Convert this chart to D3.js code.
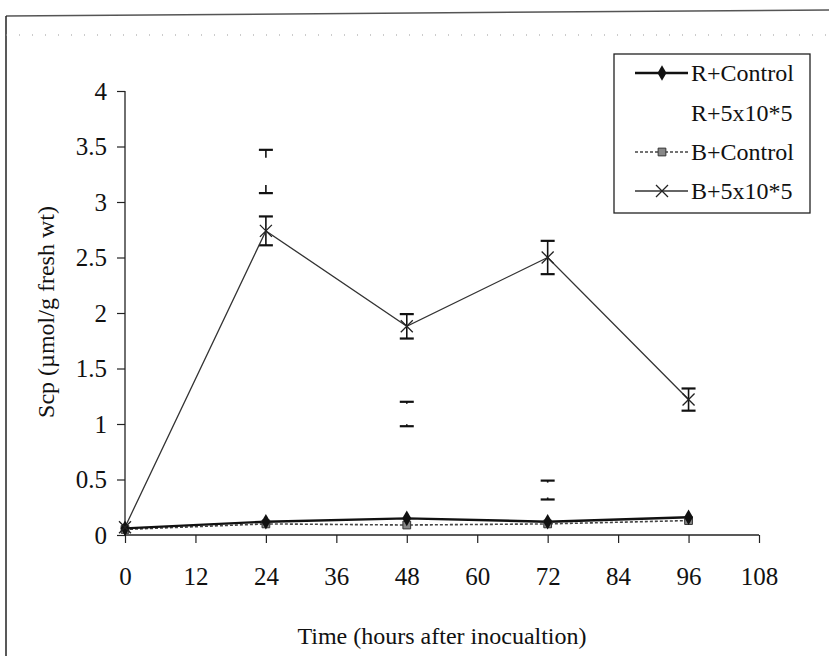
<!DOCTYPE html>
<html><head><meta charset="utf-8">
<script src="https://cdn.jsdelivr.net/npm/d3@7"></script>
<style>body{margin:0;background:#fff;} svg{display:block;} text{font-family:"Liberation Serif","Times New Roman",serif;fill:#111;}</style>
</head><body>
<svg id="c" width="829" height="656"></svg>
<script>
const hours = [0, 24, 48, 72, 96];
const xTicks = [0, 12, 24, 36, 48, 60, 72, 84, 96, 108];
const yTicks = [0, 0.5, 1, 1.5, 2, 2.5, 3, 3.5, 4];
const seriesNames = ["R+Control", "R+5x10*5", "B+Control", "B+5x10*5"];
const rControl = [0.06, 0.12, 0.15, 0.12, 0.16];
const rTreat = [0.07, 3.275, 1.09, 0.405, 0.13];
const rTreatErr = [0, 0.195, 0.11, 0.085, 0.03];
const bControl = [0.05, 0.10, 0.09, 0.10, 0.13];
const bTreat = [0.07, 2.74, 1.88, 2.50, 1.22];
const bTreatErr = [0.02, 0.13, 0.11, 0.15, 0.10];

const svg = d3.select("#c");
const x = d3.scaleLinear().domain([0, 108]).range([125, 759]);
const y = d3.scaleLinear().domain([0, 4]).range([535, 91]);

// outer scan frame
svg.append("line").attr("x1", 6).attr("y1", 16).attr("x2", 829).attr("y2", 10).attr("stroke", "#555").attr("stroke-width", 1.5);
svg.append("line").attr("x1", 6).attr("y1", 16).attr("x2", 6).attr("y2", 656).attr("stroke", "#222").attr("stroke-width", 1.5);
svg.append("line").attr("x1", 6).attr("y1", 35).attr("x2", 829).attr("y2", 35).attr("stroke", "#999").attr("stroke-width", 1).attr("stroke-dasharray", "1,12");

// axes
const yAxis = d3.axisLeft(y).tickValues(yTicks).tickFormat(d => String(d)).tickSize(8).tickPadding(10);
const gy = svg.append("g").attr("transform", "translate(125,0)").call(yAxis);
const xAxis = d3.axisBottom(x).tickValues(xTicks).tickFormat(d => String(d)).tickSize(8).tickPadding(24);
const gx = svg.append("g").attr("transform", "translate(0,535)").call(xAxis);
[gx, gy].forEach(g => {
  g.select(".domain").attr("stroke", "#222").attr("stroke-width", 1.3);
  g.selectAll(".tick line").attr("stroke", "#222").attr("stroke-width", 1.2);
  g.selectAll(".tick text").style("font-family", '"Liberation Serif",serif').style("font-size", "25px").attr("fill", "#111");
});
gy.select(".domain").attr("d", "M0,91V535");
gx.select(".domain").attr("d", "M125,0H759");

// titles
svg.append("text").attr("x", 442).attr("y", 644).attr("text-anchor", "middle").style("font-size", "24px").text("Time (hours after inocualtion)");
svg.append("text").attr("transform", "translate(54,312) rotate(-90)").attr("text-anchor", "middle").style("font-size", "24px").text("Scp (µmol/g fresh wt)");

const line = d3.line().x((d, i) => x(hours[i])).y(d => y(d));

// B+5x10*5 error bars
const cw = 7;
const eb = svg.append("g").attr("stroke", "#111").attr("stroke-width", 1.6);
bTreat.forEach((v, i) => {
  if (i === 0) return;
  const cx = x(hours[i]), t = y(v + bTreatErr[i]), b = y(v - bTreatErr[i]);
  eb.append("line").attr("x1", cx).attr("x2", cx).attr("y1", t).attr("y2", b);
  eb.append("line").attr("x1", cx - cw).attr("x2", cx + cw).attr("y1", t).attr("y2", t).attr("stroke-width", 2.2);
  eb.append("line").attr("x1", cx - cw).attr("x2", cx + cw).attr("y1", b).attr("y2", b).attr("stroke-width", 2.2);
});
// R+5x10*5 error bars (series line invisible, only caps with stubs)
rTreat.forEach((v, i) => {
  if (rTreatErr[i] < 0.05) return;
  const cx = x(hours[i]), t = y(v + rTreatErr[i]), b = y(v - rTreatErr[i]);
  const stub = i === 1 ? 8 : 2;
  eb.append("line").attr("x1", cx - cw).attr("x2", cx + cw).attr("y1", t).attr("y2", t).attr("stroke-width", 2.2);
  eb.append("line").attr("x1", cx).attr("x2", cx).attr("y1", t).attr("y2", t + stub);
  eb.append("line").attr("x1", cx - cw).attr("x2", cx + cw).attr("y1", b).attr("y2", b).attr("stroke-width", 2.2);
  eb.append("line").attr("x1", cx).attr("x2", cx).attr("y1", b).attr("y2", b - stub);
});

// lines
svg.append("path").datum(bControl).attr("d", line).attr("fill", "none").attr("stroke", "#444").attr("stroke-width", 1.6).attr("stroke-dasharray", "3,2");
svg.append("path").datum(rControl).attr("d", line).attr("fill", "none").attr("stroke", "#111").attr("stroke-width", 2.4);
svg.append("path").datum(bTreat).attr("d", line).attr("fill", "none").attr("stroke", "#333").attr("stroke-width", 1.3);

// markers
const diamond = d3.symbol().type(d3.symbolDiamond).size(70);
const square = d3.symbol().type(d3.symbolSquare).size(60);
function cross(g, cx, cy, s) {
  g.append("path").attr("d", `M${cx - s},${cy - s}L${cx + s},${cy + s}M${cx - s},${cy + s}L${cx + s},${cy - s}`).attr("stroke", "#222").attr("stroke-width", 1.3).attr("fill", "none");
}
const mk = svg.append("g");
bControl.forEach((v, i) => mk.append("path").attr("d", square).attr("transform", `translate(${x(hours[i])},${y(v)})`).attr("fill", "#888").attr("stroke", "#333").attr("stroke-width", 1));
rControl.forEach((v, i) => mk.append("path").attr("d", diamond).attr("transform", `translate(${x(hours[i])},${y(v)})`).attr("fill", "#111"));
bTreat.forEach((v, i) => cross(mk, x(hours[i]), y(v), 6));

// legend
const lg = svg.append("g");
lg.append("rect").attr("x", 614).attr("y", 54).attr("width", 196).attr("height", 159).attr("fill", "#fff").attr("stroke", "#222").attr("stroke-width", 1.3);
const rows = [73, 113, 152, 191];
const lx1 = 635, lx2 = 688, lmx = 662;
seriesNames.forEach((n, i) => {
  const ry = rows[i];
  if (i === 0) {
    lg.append("line").attr("x1", lx1).attr("x2", lx2).attr("y1", ry).attr("y2", ry).attr("stroke", "#111").attr("stroke-width", 2.4);
    lg.append("path").attr("d", diamond).attr("transform", `translate(${lmx},${ry})`).attr("fill", "#111");
  } else if (i === 2) {
    lg.append("line").attr("x1", lx1).attr("x2", lx2).attr("y1", ry).attr("y2", ry).attr("stroke", "#444").attr("stroke-width", 1.6).attr("stroke-dasharray", "3,2");
    lg.append("path").attr("d", square).attr("transform", `translate(${lmx},${ry})`).attr("fill", "#888").attr("stroke", "#333");
  } else if (i === 3) {
    lg.append("line").attr("x1", lx1).attr("x2", lx2).attr("y1", ry).attr("y2", ry).attr("stroke", "#333").attr("stroke-width", 1.3);
    cross(lg, lmx, ry, 6);
  }
  lg.append("text").attr("x", 691).attr("y", ry).attr("dy", "0.35em").style("font-size", "24px").text(n);
});
</script>
</body></html>
